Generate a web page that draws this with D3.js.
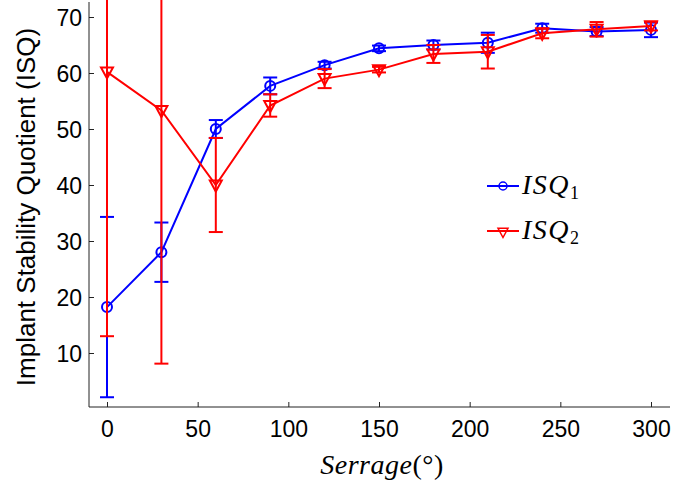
<!DOCTYPE html>
<html>
<head>
<meta charset="utf-8">
<script src="https://cdn.jsdelivr.net/npm/d3@7"></script>
<style>
  body { margin: 0; background: #fff; }
  svg text { fill: #000; }
</style>
</head>
<body>
<svg></svg>
<script>
// serrage angles (degrees)
var angles = [0, 30, 60, 90, 120, 150, 180, 210, 240, 270, 300];
// ISQ1 mean and error
var isq1 = [18.2, 28.0, 50.0, 57.7, 61.4, 64.4, 65.0, 65.4, 68.0, 67.4, 67.7];
var isq1Err = [16.1, 5.3, 1.6, 1.5, 0.6, 0.5, 0.8, 1.8, 0.8, 0.8, 1.3];
// ISQ2 mean and error
var isq2 = [60.2, 53.3, 40.0, 54.2, 59.0, 60.6, 63.4, 63.8, 67.1, 67.8, 68.4];
var isq2Err = [47.2, 45.2, 8.4, 2.0, 1.7, 0.5, 1.6, 3.0, 0.9, 1.3, 0.8];
var xTicks = [0, 50, 100, 150, 200, 250, 300];
var yTicks = [10, 20, 30, 40, 50, 60, 70];

var W = 673, H = 485;
var plotLeft = 89, plotRight = 670, plotTop = 0, plotBottom = 407;

var svg = d3.select('svg').attr('width', W).attr('height', H);

var x = d3.scaleLinear().domain([0, 300]).range([107, 651]);
var y = d3.scaleLinear().domain([0, 70]).range([409, 17]);

svg.append('clipPath').attr('id', 'plotclip')
  .append('rect').attr('x', plotLeft).attr('y', plotTop)
  .attr('width', plotRight - plotLeft).attr('height', plotBottom - plotTop);

// axes (MATLAB style, ticks inside)
var xAxis = d3.axisBottom(x).tickValues(xTicks).tickSizeInner(-5).tickSizeOuter(0).tickPadding(10);
var gx = svg.append('g').attr('transform', 'translate(0,' + plotBottom + ')').call(xAxis);
gx.select('.domain').attr('d', 'M' + plotLeft + ',0H' + plotRight);
var yAxis = d3.axisLeft(y).tickValues(yTicks).tickSizeInner(-5).tickSizeOuter(0).tickPadding(7);
var gy = svg.append('g').attr('transform', 'translate(' + plotLeft + ',0)').call(yAxis);
gy.select('.domain').attr('d', 'M0,' + plotBottom + 'V2');
svg.selectAll('.domain, .tick line').attr('stroke', '#222').attr('stroke-width', 1);
svg.selectAll('.tick text')
  .style('font-family', '"Liberation Sans", Arial, sans-serif')
  .style('font-size', '23px');
gx.selectAll('.tick text').attr('dy', '0.85em');
gy.selectAll('.tick text').attr('dy', '0.35em');

// axis labels
svg.append('text')
  .attr('transform', 'translate(35,207) rotate(-90)')
  .attr('text-anchor', 'middle')
  .style('font-family', '"Liberation Sans", Arial, sans-serif')
  .style('font-size', '26px')
  .text('Implant Stability Quotient (ISQ)');

var xl = svg.append('text')
  .attr('x', 382).attr('y', 474)
  .attr('text-anchor', 'middle')
  .style('font-family', '"Liberation Serif", serif')
  .style('font-size', '28px')
  .style('letter-spacing', '0.5px');
xl.append('tspan').style('font-style', 'italic').text('Serrage');
xl.append('tspan').text('(°)');

var series = [
  {name: 'ISQ', sub: '1', values: isq1, err: isq1Err, color: '#0000ff', marker: 'circle'},
  {name: 'ISQ', sub: '2', values: isq2, err: isq2Err, color: '#ff0000', marker: 'triangle'}
];

var plot = svg.append('g').attr('clip-path', 'url(#plotclip)');

var line = d3.line()
  .x(function(d) { return x(d[0]); })
  .y(function(d) { return y(d[1]); });

var tri = function(cx, cy, s) {
  return 'M' + (cx - s) + ',' + (cy - s * 0.75) + 'L' + (cx + s) + ',' + (cy - s * 0.75) +
    'L' + cx + ',' + (cy + s * 1.1) + 'Z';
};

series.forEach(function(s) {
  var pts = angles.map(function(a, i) { return [a, s.values[i], s.err[i]]; });
  var g = plot.append('g');
  // error bars
  var eb = g.selectAll('g.eb').data(pts).enter().append('g')
    .attr('stroke', s.color).attr('stroke-width', 2).attr('fill', 'none');
  eb.append('line')
    .attr('x1', function(d) { return x(d[0]); })
    .attr('x2', function(d) { return x(d[0]); })
    .attr('y1', function(d) { return y(d[1] - d[2]); })
    .attr('y2', function(d) { return y(d[1] + d[2]); });
  [1, -1].forEach(function(sign) {
    eb.append('line')
      .attr('x1', function(d) { return x(d[0]) - 7; })
      .attr('x2', function(d) { return x(d[0]) + 7; })
      .attr('y1', function(d) { return y(d[1] + sign * d[2]); })
      .attr('y2', function(d) { return y(d[1] + sign * d[2]); });
  });
  // line
  g.append('path').datum(pts)
    .attr('d', line)
    .attr('fill', 'none').attr('stroke', s.color).attr('stroke-width', 2);
  // markers
  if (s.marker === 'circle') {
    g.selectAll('circle').data(pts).enter().append('circle')
      .attr('cx', function(d) { return x(d[0]); })
      .attr('cy', function(d) { return y(d[1]); })
      .attr('r', 5)
      .attr('fill', 'none').attr('stroke', s.color).attr('stroke-width', 2);
  } else {
    g.selectAll('path.m').data(pts).enter().append('path')
      .attr('class', 'm')
      .attr('d', function(d) { return tri(x(d[0]), y(d[1]), 6); })
      .attr('fill', 'none').attr('stroke', s.color).attr('stroke-width', 2);
  }
});

// legend
var legend = svg.append('g');
series.forEach(function(s, i) {
  var ly = 186 + i * 45;
  var lg = legend.append('g');
  lg.append('line').attr('x1', 487).attr('x2', 519).attr('y1', ly).attr('y2', ly)
    .attr('stroke', s.color).attr('stroke-width', 2);
  if (s.marker === 'circle') {
    lg.append('circle').attr('cx', 503).attr('cy', ly).attr('r', 4)
      .attr('fill', 'none').attr('stroke', s.color).attr('stroke-width', 1.5);
  } else {
    lg.append('path').attr('d', tri(503, ly + 1, 5))
      .attr('fill', 'none').attr('stroke', s.color).attr('stroke-width', 1.5);
  }
  var t = lg.append('text').attr('x', 522).attr('y', ly + 8)
    .style('font-family', '"Liberation Serif", serif')
    .style('font-size', '28px')
    .style('letter-spacing', '1.5px');
  t.append('tspan').style('font-style', 'italic').text(s.name);
  t.append('tspan').attr('dy', 5).style('font-size', '18px').text(s.sub);
});
</script>
</body>
</html>
